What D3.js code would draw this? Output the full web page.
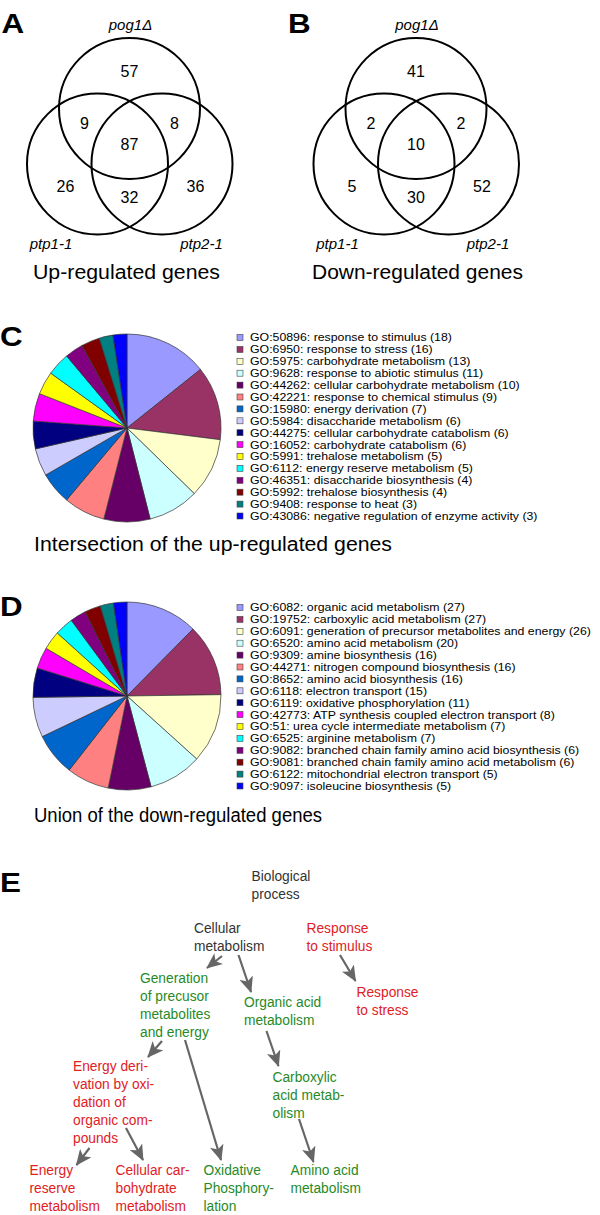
<!DOCTYPE html>
<html><head><meta charset="utf-8">
<script src="https://cdn.jsdelivr.net/npm/d3@7"></script>
<style>body{margin:0;background:#fff}svg{display:block;font-family:"Liberation Sans",Arial,sans-serif}</style>
</head><body><svg id="c" width="600" height="1215"></svg>
<script>
// ---- Venn data ----
const vennSets = ["pog1Δ", "ptp1-1", "ptp2-1"];
const vennRegions = ["top", "topLeft", "topRight", "center", "left", "bottom", "right"];
const vennUp = [57, 9, 8, 87, 26, 32, 36];
const vennDown = [41, 2, 2, 10, 5, 30, 52];
const vennTitles = ["Up-regulated genes", "Down-regulated genes"];

// ---- Pie C data ----
const goC = ["GO:50896: response to stimulus","GO:6950: response to stress","GO:5975: carbohydrate metabolism","GO:9628: response to abiotic stimulus","GO:44262: cellular carbohydrate metabolism","GO:42221: response to chemical stimulus","GO:15980: energy derivation","GO:5984: disaccharide metabolism","GO:44275: cellular carbohydrate catabolism","GO:16052: carbohydrate catabolism","GO:5991: trehalose metabolism","GO:6112: energy reserve metabolism","GO:46351: disaccharide biosynthesis","GO:5992: trehalose biosynthesis","GO:9408: response to heat","GO:43086: negative regulation of enzyme activity"];
const countC = [18,16,13,11,10,9,7,6,6,6,5,5,4,4,3,3];
// ---- Pie D data ----
const goD = ["GO:6082: organic acid metabolism","GO:19752: carboxylic acid metabolism","GO:6091: generation of precursor metabolites and energy","GO:6520: amino acid metabolism","GO:9309: amine biosynthesis","GO:44271: nitrogen compound biosynthesis","GO:8652: amino acid biosynthesis","GO:6118: electron transport","GO:6119: oxidative phosphorylation","GO:42773: ATP synthesis coupled electron transport","GO:51: urea cycle intermediate metabolism","GO:6525: arginine metabolism","GO:9082: branched chain family amino acid biosynthesis","GO:9081: branched chain family amino acid metabolism","GO:6122: mitochondrial electron transport","GO:9097: isoleucine biosynthesis"];
const countD = [27,27,26,20,16,16,16,15,11,8,7,7,6,6,5,5];
const pieColors = ["#9999FF","#993366","#FFFFCC","#CCFFFF","#660066","#FF8080","#0066CC","#CCCCFF","#000080","#FF00FF","#FFFF00","#00FFFF","#800080","#800000","#008080","#0000FF"];
const pieTitles = ["Intersection of the up-regulated genes", "Union of the down-regulated genes"];

// ---- GO tree (panel E) ----
const treeNodes = [
  {id:"bio", lines:["Biological","process"], kind:"root"},
  {id:"cell", lines:["Cellular","metabolism"], kind:"root"},
  {id:"resp", lines:["Response","to stimulus"], kind:"up"},
  {id:"gen", lines:["Generation","of precusor","metabolites","and energy"], kind:"down"},
  {id:"org", lines:["Organic acid","metabolism"], kind:"down"},
  {id:"stress", lines:["Response","to stress"], kind:"up"},
  {id:"ederiv", lines:["Energy deri-","vation by oxi-","dation of","organic com-","pounds"], kind:"up"},
  {id:"carb", lines:["Carboxylic","acid metab-","olism"], kind:"down"},
  {id:"ereserve", lines:["Energy","reserve","metabolism"], kind:"up"},
  {id:"cellcarb", lines:["Cellular car-","bohydrate","metabolism"], kind:"up"},
  {id:"oxphos", lines:["Oxidative","Phosphory-","lation"], kind:"down"},
  {id:"amino", lines:["Amino acid","metabolism"], kind:"down"}
];
const treeEdges = [["cell","gen"],["cell","org"],["resp","stress"],["gen","ederiv"],["gen","oxphos"],["org","carb"],["ederiv","ereserve"],["ederiv","cellcarb"],["carb","amino"]];

const svg = d3.select("#c");

// ---------- Venn ----------
function venn(g, cx, counts, title, titleX, titleW, letter, letterX){
  const r = 70.5;
  const pos = {top:[cx, 108.5], left:[cx-32, 164], right:[cx+32.5, 164]};
  [pos.top, pos.left, pos.right].forEach(p=>{
    g.append("circle").attr("cx",p[0]).attr("cy",p[1]).attr("r",r)
     .attr("fill","none").attr("stroke","#000").attr("stroke-width",2);
  });
  const lab = {top:[0,77], topLeft:[-45,129], topRight:[45,129], center:[0,150], left:[-64,192], bottom:[0,203], right:[66,192]};
  vennRegions.forEach((k,i)=>{
    g.append("text").attr("x",cx+lab[k][0]).attr("y",lab[k][1]).attr("text-anchor","middle")
     .attr("font-size",16).text(counts[i]);
  });
  const setPos = [[cx+1,30],[cx-78.5,249],[cx+72,249]];
  vennSets.forEach((s,i)=>{
    g.append("text").attr("x",setPos[i][0]).attr("y",setPos[i][1]).attr("text-anchor","middle")
     .attr("font-size",15).attr("font-style","italic").text(s);
  });
  g.append("text").attr("x",titleX).attr("y",279).attr("font-size",19.5)
    .attr("textLength",titleW).attr("lengthAdjust","spacingAndGlyphs").text(title);
  g.append("text").attr("x",letterX).attr("y",33.5).attr("font-size",28.5).attr("font-weight","bold")
    .attr("transform",`translate(${letterX},0) scale(1.1,1) translate(${-letterX},0)`).text(letter);
}
venn(svg.append("g"), 129.5, vennUp, vennTitles[0], 33, 187, "A", 1.5);
venn(svg.append("g"), 416, vennDown, vennTitles[1], 312, 211, "B", 288);

// ---------- Pies ----------
function pieChart(cy, counts, labels, title, titleY, titleW, letter, letterY, legendY){
  const g = svg.append("g").attr("transform",`translate(127,${cy})`);
  const pie = d3.pie().sort(null).value(d=>d);
  const arc = d3.arc().innerRadius(0).outerRadius(94);
  g.selectAll("path").data(pie(counts)).join("path")
    .attr("d",arc).attr("fill",(d,i)=>pieColors[i]).attr("stroke","#333").attr("stroke-width",0.7);
  const lg = svg.append("g");
  const rowH = 11.9;
  const tg = lg.append("g").attr("transform","translate(250,0) scale(1.1,1)");
  labels.forEach((t,i)=>{
    const y = legendY + i*rowH;
    lg.append("rect").attr("x",237).attr("y",y-3).attr("width",6).attr("height",6)
      .attr("fill",pieColors[i]).attr("stroke","#444").attr("stroke-width",0.6);
    tg.append("text").attr("x",0).attr("y",y+4).attr("font-size",11.2).attr("fill","#000")
      .text(`${t} (${counts[i]})`);
  });
  svg.append("text").attr("x",34).attr("y",titleY).attr("font-size",19.5)
    .attr("textLength",titleW).attr("lengthAdjust","spacingAndGlyphs").text(title);
  svg.append("text").attr("x",0).attr("y",letterY).attr("font-size",28.5).attr("font-weight","bold")
    .attr("transform","scale(1.1,1)").text(letter);
}
pieChart(428, countC, goC, pieTitles[0], 551, 358, "C", 346, 337.5);
pieChart(696, countD, goD, pieTitles[1], 822, 288, "D", 616, 607.5);

// ---------- Panel E ----------
svg.append("text").attr("x",0).attr("y",892).attr("font-size",28.5).attr("font-weight","bold")
  .attr("transform","scale(1.1,1)").text("E");
const nodePos = {bio:[251.5,881], cell:[194,933], resp:[306.5,933], gen:[140,983], org:[244,1007], stress:[356.5,997],
  ederiv:[73,1071], carb:[272.5,1082], ereserve:[29.5,1175], cellcarb:[115.5,1175], oxphos:[203.5,1175], amino:[290.5,1175]};
const kindColor = {root:"#333333", up:"#E0211F", down:"#278A27"};
treeNodes.forEach(n=>{
  const [x,y] = nodePos[n.id];
  const ng = svg.append("g").attr("transform",`translate(${x},${y}) scale(0.9,1)`);
  const t = ng.append("text").attr("x",0).attr("y",0).attr("font-size",15.3).attr("fill",kindColor[n.kind]);
  n.lines.forEach((l,i)=>t.append("tspan").attr("x",0).attr("y",i*18).text(l));
});
const edgePos = {"cell-gen":[222,956,207,968],"cell-org":[238.5,955,251,992],"resp-stress":[340,955,355.5,981],
  "gen-ederiv":[162,1041,148,1057],"gen-oxphos":[185,1040,221,1160],"org-carb":[266.5,1031,278.5,1066],
  "ederiv-ereserve":[89.5,1148,76.5,1165],"ederiv-cellcarb":[126,1128,143,1160],"carb-amino":[299,1119,313.5,1162]};
const defs = svg.append("defs");
defs.append("marker").attr("id","ah").attr("viewBox","0 0 16 14").attr("refX",15).attr("refY",7)
  .attr("markerWidth",16).attr("markerHeight",14).attr("markerUnits","userSpaceOnUse").attr("orient","auto")
  .append("path").attr("d","M0,0 L16,7 L0,14 L4,7 Z").attr("fill","#666");
treeEdges.forEach(e=>{
  const p = edgePos[e[0]+"-"+e[1]];
  svg.append("line").attr("x1",p[0]).attr("y1",p[1]).attr("x2",p[2]).attr("y2",p[3])
    .attr("stroke","#666").attr("stroke-width",2.2).attr("marker-end","url(#ah)");
});
</script></body></html>
